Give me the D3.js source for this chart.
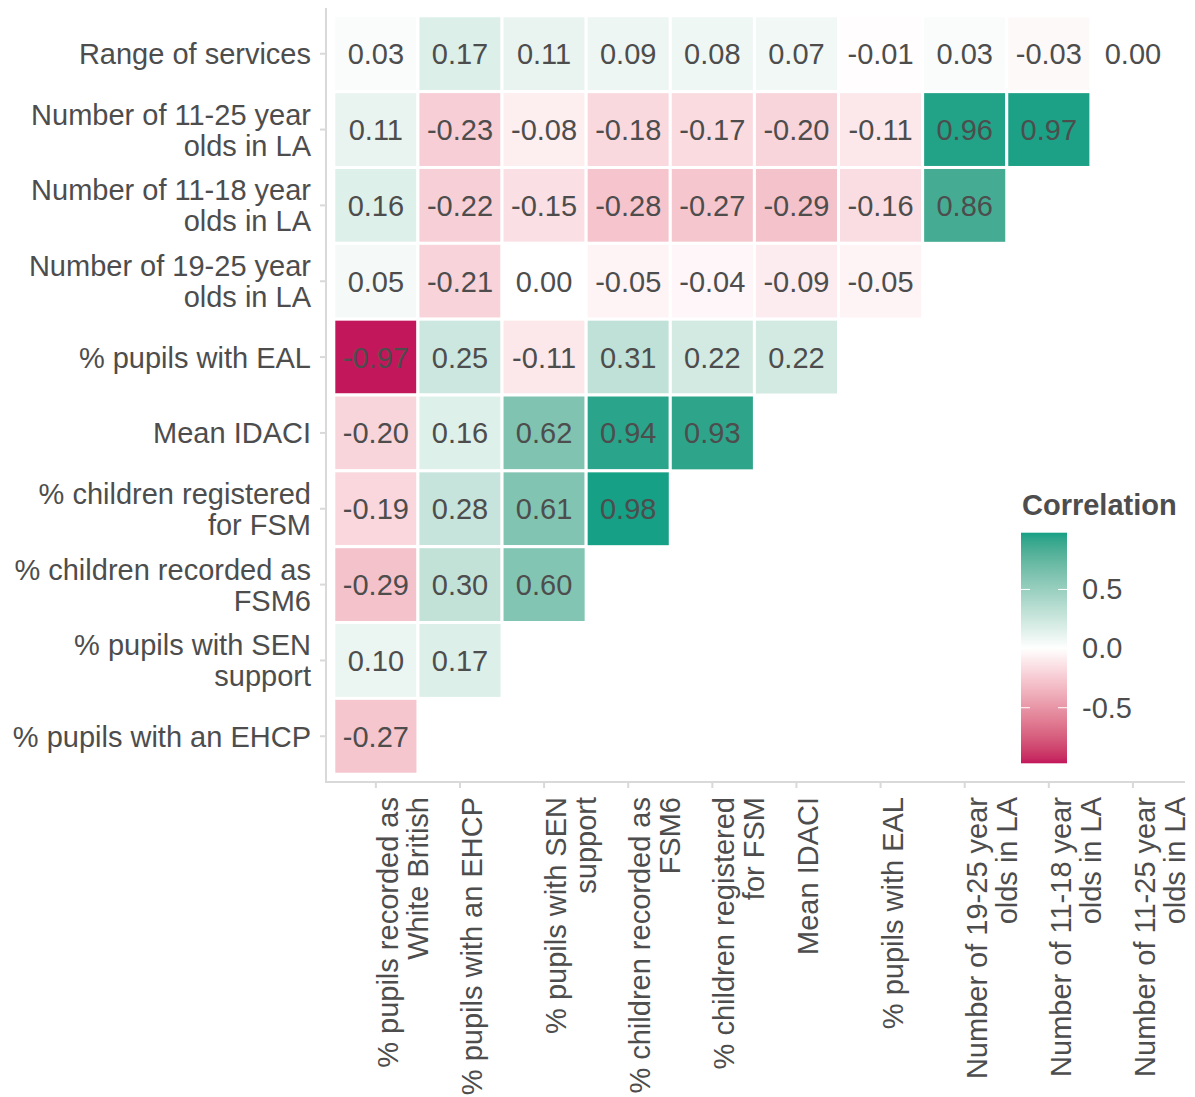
<!DOCTYPE html>
<html>
<head>
<meta charset="utf-8">
<script src="https://cdn.jsdelivr.net/npm/d3@7"></script>
<style>
  html, body { margin: 0; padding: 0; background: #ffffff; }
  svg { display: block; font-family: "Liberation Sans", Arial, sans-serif; }
</style>
</head>
<body>
<svg id="chart" width="1195" height="1097"></svg>
<script>
// ---- Data ----
const xCategories = [
  "% pupils recorded as\nWhite British",
  "% pupils with an EHCP",
  "% pupils with SEN\nsupport",
  "% children recorded as\nFSM6",
  "% children registered\nfor FSM",
  "Mean IDACI",
  "% pupils with EAL",
  "Number of 19-25 year\nolds in LA",
  "Number of 11-18 year\nolds in LA",
  "Number of 11-25 year\nolds in LA"
];
const yCategories = [
  "Range of services",
  "Number of 11-25 year\nolds in LA",
  "Number of 11-18 year\nolds in LA",
  "Number of 19-25 year\nolds in LA",
  "% pupils with EAL",
  "Mean IDACI",
  "% children registered\nfor FSM",
  "% children recorded as\nFSM6",
  "% pupils with SEN\nsupport",
  "% pupils with an EHCP"
];
const rangeOfServices = [0.03, 0.17, 0.11, 0.09, 0.08, 0.07, -0.01, 0.03, -0.03, 0.00];
const number11to25 = [0.11, -0.23, -0.08, -0.18, -0.17, -0.20, -0.11, 0.96, 0.97];
const number11to18 = [0.16, -0.22, -0.15, -0.28, -0.27, -0.29, -0.16, 0.86];
const number19to25 = [0.05, -0.21, 0.00, -0.05, -0.04, -0.09, -0.05];
const pupilsEAL = [-0.97, 0.25, -0.11, 0.31, 0.22, 0.22];
const meanIDACI = [-0.20, 0.16, 0.62, 0.94, 0.93];
const registeredFSM = [-0.19, 0.28, 0.61, 0.98];
const recordedFSM6 = [-0.29, 0.30, 0.60];
const pupilsSEN = [0.10, 0.17];
const pupilsEHCP = [-0.27];
const legendTicks = [-0.5, 0.0, 0.5];
const legendTitle = "Correlation";

const rows = [rangeOfServices, number11to25, number11to18, number19to25, pupilsEAL,
              meanIDACI, registeredFSM, recordedFSM6, pupilsSEN, pupilsEHCP];
const cells = [];
rows.forEach((vals, ri) => vals.forEach((v, ci) => cells.push({x: xCategories[ci], y: yCategories[ri], v})));

// ---- Layout ----
const svg = d3.select("#chart");
const FS = 29;
const textCol = "#4D4D4D";
const axisCol = "#D9D9D9";
const fmt = p => (v => d3.format(p)(v).replace("\u2212", "-"));

const x = d3.scaleBand().domain(xCategories).range([333.8, 1175]).paddingInner(0).paddingOuter(0);
const y = d3.scaleBand().domain(yCategories).range([15.8, 774.2]).paddingInner(0).paddingOuter(0);

const ext = d3.extent(cells, d => d.v);
const lowCol = "#C2105A", highCol = "#16A085";
const m = Math.max(Math.abs(ext[0]), Math.abs(ext[1]));
const color = v => v < 0
  ? d3.interpolateLab("#ffffff", lowCol)(-v / m)
  : d3.interpolateLab("#ffffff", highCol)(v / m);

// axis lines
svg.append("line").attr("x1", 326).attr("x2", 326).attr("y1", 8).attr("y2", 782)
  .attr("stroke", axisCol).attr("stroke-width", 2);
svg.append("line").attr("x1", 325).attr("x2", 1185).attr("y1", 782).attr("y2", 782)
  .attr("stroke", axisCol).attr("stroke-width", 2);

// tiles
svg.append("g").selectAll("rect").data(cells).join("rect")
  .attr("x", d => x(d.x)).attr("y", d => y(d.y))
  .attr("width", x.bandwidth()).attr("height", y.bandwidth())
  .attr("fill", d => color(d.v))
  .attr("stroke", "#ffffff").attr("stroke-width", 3);

// cell labels
svg.append("g").selectAll("text").data(cells).join("text")
  .attr("x", d => x(d.x) + x.bandwidth() / 2)
  .attr("y", d => y(d.y) + y.bandwidth() / 2)
  .attr("text-anchor", "middle").attr("dy", "0.36em")
  .attr("font-size", FS).attr("fill", textCol)
  .text(d => fmt(".2f")(d.v));

// y axis
const yAxisG = svg.append("g").attr("transform", "translate(326,0)")
  .call(d3.axisLeft(y).tickSize(6).tickPadding(9));
yAxisG.select(".domain").remove();
yAxisG.selectAll(".tick line").attr("stroke", axisCol).attr("stroke-width", 2);
yAxisG.selectAll(".tick text").each(function(d) {
  const t = d3.select(this);
  const lines = d.split("\n");
  t.text(null).attr("font-size", FS).attr("fill", textCol).attr("font-family", "Liberation Sans, Arial, sans-serif")
    .attr("dy", null).attr("y", 0);
  const lh = 31;
  lines.forEach((ln, i) => {
    t.append("tspan").attr("x", -15).attr("y", (i - (lines.length - 1) / 2) * lh).attr("dy", "0.36em").text(ln);
  });
});

// x axis
const xAxisG = svg.append("g").attr("transform", "translate(0,782)")
  .call(d3.axisBottom(x).tickSize(6));
xAxisG.select(".domain").remove();
xAxisG.selectAll(".tick line").attr("stroke", axisCol).attr("stroke-width", 2);
xAxisG.selectAll(".tick text").each(function(d) {
  const t = d3.select(this);
  const lines = d.split("\n");
  t.text(null).attr("font-size", FS).attr("fill", textCol).attr("font-family", "Liberation Sans, Arial, sans-serif")
    .attr("text-anchor", "end").attr("dy", null).attr("y", null)
    .attr("transform", "translate(0,15) rotate(-90)");
  lines.forEach((ln, i) => {
    t.append("tspan").attr("x", 0).attr("y", 22 + i * 30).text(ln);
  });
});

// legend
const lg = svg.append("g");
lg.append("text").attr("x", 1022).attr("y", 515).attr("font-size", FS).attr("font-weight", "bold")
  .attr("fill", textCol).text(legendTitle);
const barX = 1021, barW = 46, barTop = 532.7, barBot = 763.3;
const ly = d3.scaleLinear().domain(ext).range([barBot, barTop]);
const defs = svg.append("defs");
const grad = defs.append("linearGradient").attr("id", "cbar").attr("x1", 0).attr("x2", 0).attr("y1", 1).attr("y2", 0);
d3.range(0, 41).forEach(i => {
  const v = ext[0] + (ext[1] - ext[0]) * i / 40;
  grad.append("stop").attr("offset", (i / 40 * 100) + "%").attr("stop-color", color(v));
});
lg.append("rect").attr("x", barX).attr("y", barTop).attr("width", barW).attr("height", barBot - barTop)
  .attr("fill", "url(#cbar)");
legendTicks.forEach(t => {
  const yy = ly(t);
  lg.append("line").attr("x1", barX).attr("x2", barX + 9).attr("y1", yy).attr("y2", yy).attr("stroke", "#fff").attr("stroke-width", 1);
  lg.append("line").attr("x1", barX + barW - 9).attr("x2", barX + barW).attr("y1", yy).attr("y2", yy).attr("stroke", "#fff").attr("stroke-width", 1);
});
const legAxis = lg.append("g").attr("transform", `translate(${barX + barW},0)`)
  .call(d3.axisRight(ly).tickValues(legendTicks).tickFormat(fmt(".1f")).tickSize(0).tickPadding(15));
legAxis.select(".domain").remove();
legAxis.selectAll(".tick text").attr("font-size", FS).attr("fill", textCol).attr("font-family", "Liberation Sans, Arial, sans-serif");
</script>
</body>
</html>
